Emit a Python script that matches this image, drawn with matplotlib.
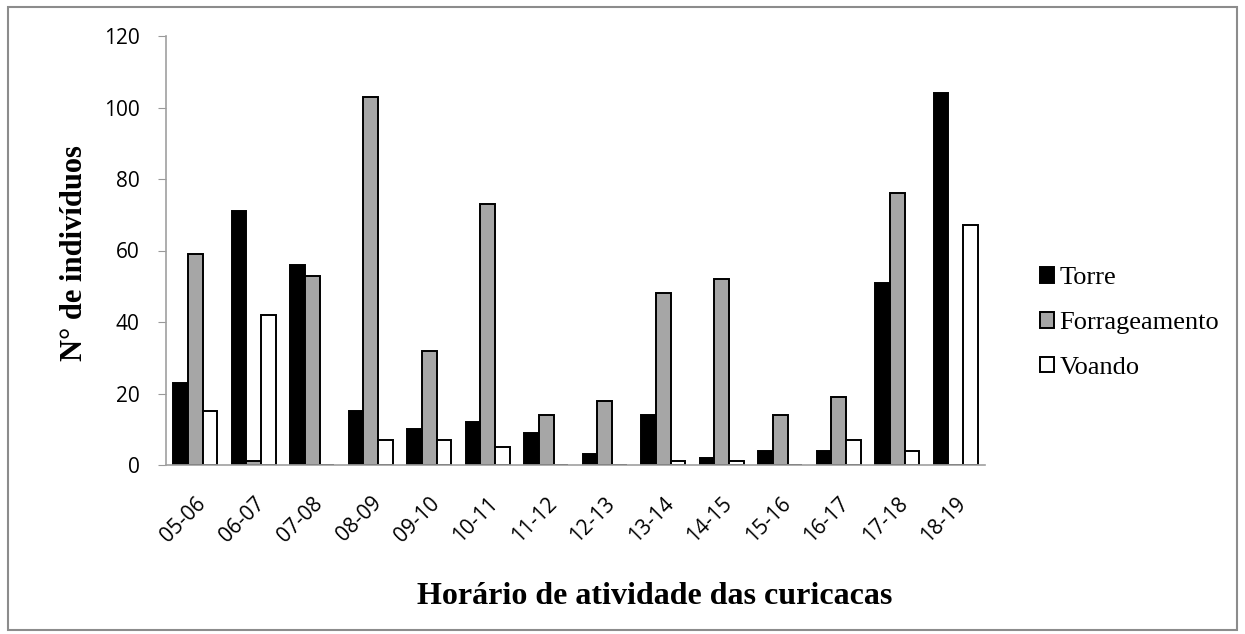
import matplotlib
matplotlib.use("Agg")
import matplotlib.pyplot as plt
import numpy as np
from matplotlib.patches import Rectangle

categories = ["05-06", "06-07", "07-08", "08-09", "09-10", "10-11", "11-12",
              "12-13", "13-14", "14-15", "15-16", "16-17", "17-18", "18-19"]
torre = [23, 71, 56, 15, 10, 12, 9, 3, 14, 2, 4, 4, 51, 104]
forrageamento = [59, 1, 53, 103, 32, 73, 14, 18, 48, 52, 14, 19, 76, 0]
voando = [15, 42, 0, 7, 7, 5, 0, 0, 1, 1, 0, 7, 4, 67]
series_names = ["Torre", "Forrageamento", "Voando"]
yticks = [0, 20, 40, 60, 80, 100, 120]

fig = plt.figure(figsize=(12.45, 6.34), dpi=100)
ax = fig.add_axes([166/1245, 1-465/634, (985-166)/1245, (465-36)/634])

x = np.arange(len(categories))
w = 0.25
colors = ["#000000", "#A6A6A6", "#FFFFFF"]
for k, (vals, name) in enumerate(zip([torre, forrageamento, voando], series_names)):
    ax.bar(x + (k-1)*w, vals, width=w, color=colors[k], edgecolor="black",
           linewidth=1.4, label=name)

ax.set_xlim(-0.5, len(categories)-0.5)
ax.set_ylim(0, 120)
ax.set_yticks(yticks)
ax.set_xticks(x)
ax.set_xticklabels(categories, rotation=45, ha="right", rotation_mode="anchor",
                   fontsize=15, family="Open Sans")
for t in ax.get_yticklabels():
    t.set_fontsize(15)
    t.set_family("Open Sans")
ax.tick_params(axis="x", length=0, pad=20)
ax.tick_params(axis="y", length=6, color="#999999", pad=13)
for s in ["top", "right"]:
    ax.spines[s].set_visible(False)
for s in ["left", "bottom"]:
    ax.spines[s].set_color("#A0A0A0")
    ax.spines[s].set_linewidth(1.2)

fig.text(75/1245, 1-253/634, "N° de indivíduos", rotation=90, ha="center", va="center",
         fontsize=22, fontweight="bold", family="Liberation Serif")
fig.text(655/1245, 1-597/634, "Horário de atividade das curicacas", ha="center", va="center",
         fontsize=23, fontweight="bold", family="Liberation Serif")

handles, labels = ax.get_legend_handles_labels()
fig.legend(handles, labels, loc="center left", bbox_to_anchor=(1016/1245, 1-323/634),
           frameon=False, prop={"family": "Liberation Serif", "size": 19},
           handlelength=0.55, handleheight=0.55, handletextpad=0.2, labelspacing=0.85)

fig.patches.append(Rectangle((8/1245, 1-630/634), (1237-8)/1245, (630-7)/634,
                             transform=fig.transFigure, fill=False,
                             edgecolor="#8C8C8C", linewidth=1.5))

fig.savefig("out.png", dpi=100)
